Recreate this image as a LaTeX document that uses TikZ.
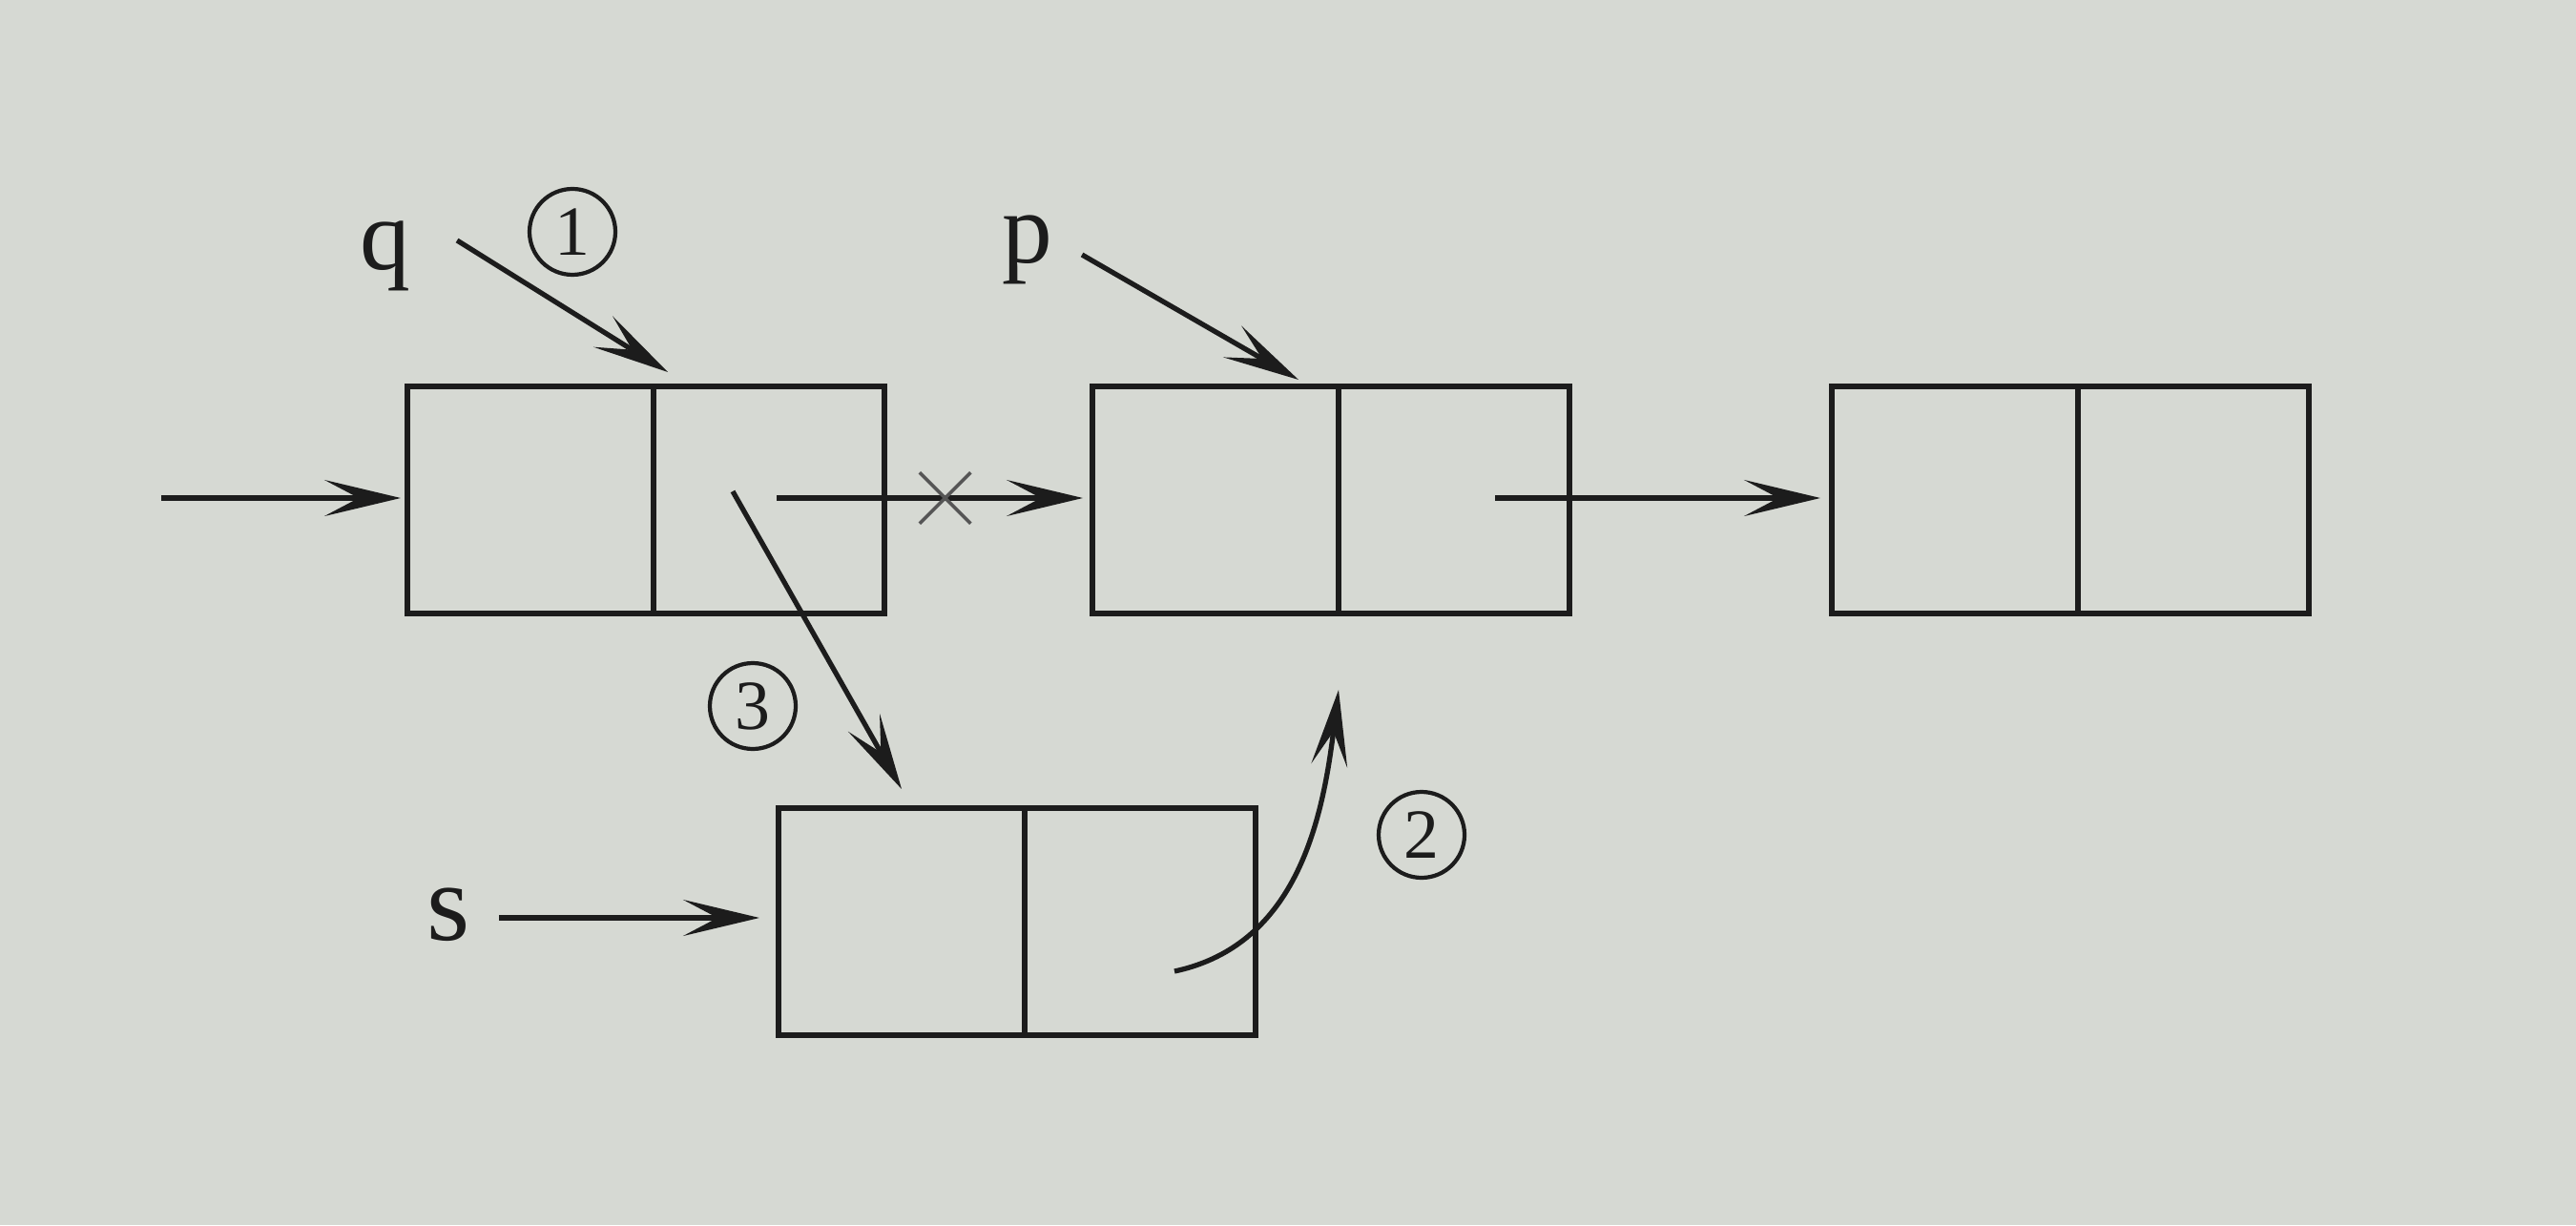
\documentclass[tikz,border=0pt]{standalone}
\usepackage{fontspec}
\setmainfont{Liberation Serif}
\usetikzlibrary{positioning}
\usetikzlibrary{arrows.meta}
\usetikzlibrary{shapes.misc}

\definecolor{paper}{RGB}{214,217,211}
\definecolor{ink}{RGB}{28,28,28}

\begin{document}
\begin{tikzpicture}[
    >={Stealth[length=0.8cm, width=0.38cm, inset=0.36cm]},
    cell/.style={draw=ink, line width=1.8pt, minimum height=2.38cm, outer sep=0pt, inner sep=0pt},
    datacell/.style={cell, minimum width=2.58cm},
    nextcell/.style={cell, minimum width=2.42cm},
    ptr/.style={->, draw=ink, line width=1.5pt},
    varlabel/.style={inner sep=0pt, text=ink, font=\fontsize{30}{34}\selectfont},
    steplabel/.style={circle, draw=ink, line width=1.2pt, minimum size=0.9cm, inner sep=0pt,
                      text=ink, font=\fontsize{21}{24}\selectfont},
    crossmark/.style={cross out, draw=ink!75, line width=1pt, minimum size=0.5cm, inner sep=0pt}
]

% --- 1. PAGE (paper background) ---
\fill[paper] (0,0) rectangle (27,12.84);
\useasboundingbox (0,0) rectangle (27,12.84);

% --- 2. LIST NODES (data | next) ---
\node[datacell, anchor=west] (Ad) at (4.27,7.60) {};
\node[nextcell, right=0pt of Ad] (An) {};

\node[datacell, anchor=west] (Bd) at (11.45,7.60) {};
\node[nextcell, right=0pt of Bd] (Bn) {};

\node[datacell, anchor=west] (Cd) at (19.20,7.60) {};
\node[nextcell, right=0pt of Cd] (Cn) {};

% new node s
\node[datacell, anchor=west] (Sd) at (8.16,3.18) {};
\node[nextcell, right=0pt of Sd] (Sn) {};

% --- 3. POINTER LABELS ---
\node[varlabel] (q) at (4.04,10.16) {q};
\node[varlabel] (p) at (10.77,10.22) {p};
\node[varlabel, font=\fontsize{33}{36}\selectfont] (s) at (4.70,3.25) {s};

\node[steplabel] (one) at (6.00,10.41) {1};
\node[steplabel] (three) at (7.89,5.44) {3};
\node[steplabel] (two) at (14.90,4.09) {2};

% free ends
\coordinate (head) at (1.69,7.62);
\coordinate (q_tip) at ([shift={(0.15,0.15)}]An.north west);
\coordinate (p_tip) at ([shift={(-0.42,0.07)}]Bn.north west);
\coordinate (two_tip) at ([yshift=-0.8cm]Bn.south west);

% --- 4. LINKS ---
\draw[ptr] (head) -- ([xshift=-0.07cm]Ad.west |- head);
\draw[ptr] ([xshift=0.08cm]An.center |- head) -- ([xshift=-0.1cm]Bd.west |- head)
    node[pos=0.55, crossmark] (cut) {};
\draw[ptr] ([xshift=0.43cm]Bn.center |- head) -- ([xshift=-0.12cm]Cd.west |- head);

% pointer arrows
\draw[ptr] ([shift={(0.48,0.16)}]q.east) -- (q_tip);
\draw[ptr] ([shift={(0.3,-0.05)}]p.east) -- (p_tip);
\draw[ptr] ([xshift=0.3cm]s.east |- 0,3.22) -- ([xshift=-0.2cm]Sd.west |- 0,3.22);

% step 3: q->next = s
\draw[ptr] ([shift={(-0.38,0.09)}]An.center) -- ([yshift=0.2cm]Sd.north);

% step 2: s->next = p
\draw[ptr] ([shift={(0.36,-0.52)}]Sn.center) to[out=12, in=-97] (two_tip);

\end{tikzpicture}
\end{document}
